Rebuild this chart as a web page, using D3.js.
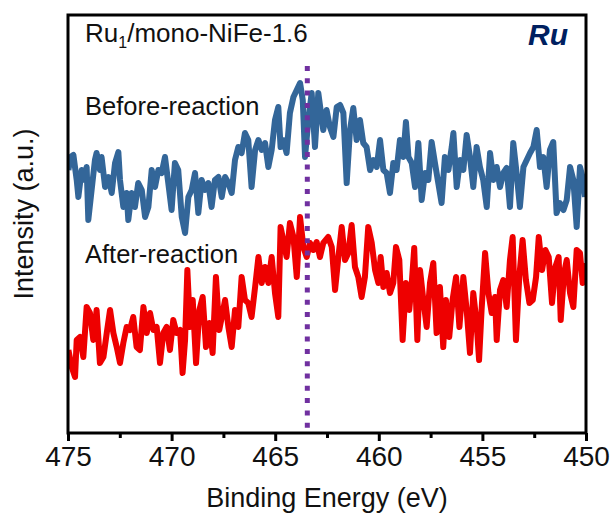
<!DOCTYPE html>
<html lang="en">
<head>
<meta charset="utf-8">
<title>Ru XPS</title>
<style>
  body { margin: 0; background: #fff; }
  text { font-family: "Liberation Sans", Arial, sans-serif; }
</style>
</head>
<body>
<div id="chart"></div>
<script src="https://d3js.org/d3.v7.min.js"></script>
<script>
// binding energy (eV) and intensity (a.u.)
var beforeEnergy = [474.98,474.87,474.74,474.58,474.50,474.34,474.18,474.10,474.02,473.86,473.70,473.62,473.46,473.38,473.21,473.05,472.89,472.73,472.57,472.49,472.33,472.17,472.09,471.93,471.77,471.61,471.44,471.28,471.12,470.96,470.80,470.64,470.48,470.32,470.16,470.00,469.84,469.68,469.51,469.35,469.19,469.03,468.87,468.71,468.55,468.39,468.23,468.07,467.91,467.74,467.58,467.42,467.26,467.10,466.94,466.78,466.62,466.46,466.30,466.14,465.97,465.81,465.65,465.49,465.33,465.17,465.01,464.85,464.74,464.61,464.45,464.29,464.12,463.96,463.80,463.67,463.56,463.40,463.24,463.08,462.92,462.68,462.52,462.36,462.19,462.03,461.87,461.71,461.55,461.39,461.23,461.07,460.91,460.75,460.59,460.42,460.26,460.10,459.94,459.78,459.62,459.46,459.30,459.14,458.98,458.82,458.69,458.57,458.41,458.25,458.09,457.93,457.77,457.61,457.45,457.29,457.13,456.97,456.81,456.64,456.48,456.40,456.24,456.08,455.92,455.76,455.60,455.44,455.28,455.12,454.96,454.79,454.63,454.47,454.31,454.15,453.99,453.83,453.67,453.51,453.35,453.19,453.02,452.86,452.70,452.54,452.38,452.22,452.06,451.90,451.74,451.58,451.42,451.26,451.09,450.93,450.77,450.61,450.45,450.29,450.13,450.05];
var beforeIntensity = [263,276,278,253,236,263,253,266,213,243,273,280,263,276,246,256,240,270,281,253,226,240,213,240,226,250,243,216,226,263,246,263,260,276,250,223,270,263,216,200,236,243,260,220,253,243,250,226,253,256,236,256,250,240,273,286,280,300,293,246,283,293,283,290,266,283,313,326,286,293,280,320,336,343,350,333,276,313,340,286,340,303,323,306,296,326,328,320,250,303,325,293,313,290,286,263,273,266,293,263,260,240,270,263,293,276,311,276,270,246,290,233,260,253,291,270,250,230,276,263,286,300,246,273,263,298,276,246,286,266,253,226,280,253,266,246,260,265,226,290,260,226,266,273,280,286,303,266,276,246,283,291,220,230,223,233,266,253,206,266,253,236];

var afterEnergy = [474.98,474.82,474.66,474.58,474.42,474.26,474.10,473.94,473.78,473.62,473.46,473.29,473.13,472.97,472.81,472.65,472.49,472.33,472.17,472.01,471.85,471.69,471.53,471.36,471.20,471.04,470.88,470.72,470.56,470.40,470.24,470.08,469.92,469.76,469.59,469.47,469.35,469.24,469.11,468.98,468.82,468.66,468.50,468.34,468.18,468.02,467.86,467.70,467.54,467.42,467.26,467.10,466.94,466.78,466.62,466.46,466.30,466.14,465.97,465.81,465.65,465.49,465.33,465.17,465.01,464.85,464.74,464.58,464.45,464.29,464.12,463.96,463.80,463.64,463.48,463.32,463.16,463.00,462.84,462.68,462.44,462.27,462.11,461.95,461.79,461.63,461.47,461.31,461.15,460.99,460.83,460.67,460.51,460.34,460.18,460.02,459.91,459.78,459.62,459.46,459.30,459.17,459.01,458.85,458.69,458.53,458.41,458.29,458.14,458.01,457.85,457.69,457.53,457.37,457.21,457.05,456.89,456.76,456.60,456.44,456.27,456.11,455.92,455.76,455.60,455.44,455.28,455.16,455.04,454.87,454.71,454.55,454.39,454.31,454.15,453.99,453.83,453.67,453.54,453.38,453.22,453.06,452.90,452.73,452.57,452.41,452.28,452.12,451.96,451.80,451.64,451.48,451.32,451.22,451.06,450.93,450.77,450.61,450.45,450.29,450.16,450.05];
var afterIntensity = [83,66,56,93,96,76,126,120,93,123,70,76,100,123,100,86,70,90,106,103,116,86,83,126,100,120,103,106,70,100,106,83,113,100,103,60,93,163,106,133,70,123,136,86,110,80,156,103,120,133,106,86,123,106,156,133,130,116,146,176,150,166,150,176,140,116,206,190,176,210,196,156,216,186,176,190,183,191,176,190,196,186,143,176,206,173,180,208,166,156,136,156,206,190,163,150,176,146,160,140,150,186,173,93,150,123,150,185,93,163,133,106,150,170,100,146,86,133,96,133,156,106,156,123,80,140,110,73,123,180,140,120,136,93,143,153,126,173,196,93,156,193,153,130,133,156,196,163,183,176,130,166,176,113,160,173,140,126,183,180,150,170];

var xTicks = [475, 470, 465, 460, 455, 450];
var xMinorTicks = [472.5, 467.5, 462.5, 457.5, 452.5];
var refEnergy = 463.45;

var W = 610, H = 517;
var plotLeft = 68, plotRight = 586, plotTop = 15, plotBottom = 433;

var svg = d3.select("#chart").append("svg")
    .attr("width", W)
    .attr("height", H);

var x = d3.scaleLinear().domain([475, 450]).range([plotLeft, plotRight]);
var y = d3.scaleLinear().domain([0, 418]).range([plotBottom, plotTop]);

svg.append("clipPath").attr("id", "clip")
    .append("rect")
    .attr("x", plotLeft).attr("y", plotTop)
    .attr("width", plotRight - plotLeft).attr("height", plotBottom - plotTop);

var line = d3.line()
    .x(function(d) { return x(d[0]); })
    .y(function(d) { return y(d[1]); });

var plot = svg.append("g").attr("clip-path", "url(#clip)");

plot.append("path")
    .datum(d3.zip(beforeEnergy, beforeIntensity))
    .attr("d", line)
    .attr("fill", "none")
    .attr("stroke", "#336699")
    .attr("stroke-width", 6)
    .attr("stroke-linejoin", "round");

plot.append("path")
    .datum(d3.zip(afterEnergy, afterIntensity))
    .attr("d", line)
    .attr("fill", "none")
    .attr("stroke", "#ee0000")
    .attr("stroke-width", 6)
    .attr("stroke-linejoin", "round");

// dotted reference line
svg.append("line")
    .attr("x1", x(refEnergy)).attr("x2", x(refEnergy))
    .attr("y1", 66).attr("y2", plotBottom)
    .attr("stroke", "#7030a0")
    .attr("stroke-width", 5)
    .attr("stroke-dasharray", "5 7.3");

// frame
svg.append("rect")
    .attr("x", plotLeft).attr("y", plotTop)
    .attr("width", plotRight - plotLeft).attr("height", plotBottom - plotTop)
    .attr("fill", "none")
    .attr("stroke", "#000")
    .attr("stroke-width", 3);

var xAxis = svg.append("g")
    .attr("transform", "translate(0," + plotBottom + ")")
    .call(d3.axisBottom(x).tickValues(xTicks).tickSize(8).tickPadding(5).tickFormat(d3.format("d")));
xAxis.select(".domain").remove();
xAxis.selectAll("line").attr("stroke-width", 3);
xAxis.selectAll("text")
    .attr("font-size", 28)
    .attr("fill", "#111")
    .style("font-family", "'Liberation Sans', Arial, sans-serif");

svg.append("g")
    .attr("transform", "translate(0," + plotBottom + ")")
    .call(d3.axisBottom(x).tickValues(xMinorTicks).tickSize(5).tickFormat(""))
    .call(function(g) { g.select(".domain").remove(); })
    .selectAll("line").attr("stroke-width", 3);

svg.append("text")
    .attr("x", (plotLeft + plotRight) / 2)
    .attr("y", 507)
    .attr("text-anchor", "middle")
    .attr("font-size", 27)
    .attr("fill", "#111")
    .text("Binding Energy (eV)");

svg.append("text")
    .attr("transform", "translate(33,214) rotate(-90)")
    .attr("text-anchor", "middle")
    .attr("font-size", 27)
    .attr("fill", "#111")
    .text("Intensity (a.u.)");

var title = svg.append("text")
    .attr("x", 85).attr("y", 42)
    .attr("font-size", 26)
    .attr("fill", "#111");
title.append("tspan").text("Ru");
title.append("tspan").attr("font-size", 16).attr("dy", 6).text("1");
title.append("tspan").attr("dy", -6).text("/mono-NiFe-1.6");

svg.append("text")
    .attr("x", 568).attr("y", 45)
    .attr("text-anchor", "end")
    .attr("font-size", 30)
    .attr("font-weight", "bold")
    .attr("font-style", "italic")
    .attr("fill", "#002060")
    .text("Ru");

svg.append("text")
    .attr("x", 85).attr("y", 115)
    .attr("font-size", 25.5)
    .attr("fill", "#111")
    .text("Before-reaction");

svg.append("text")
    .attr("x", 85).attr("y", 263)
    .attr("font-size", 25.5)
    .attr("fill", "#111")
    .text("After-reaction");
</script>
</body>
</html>
